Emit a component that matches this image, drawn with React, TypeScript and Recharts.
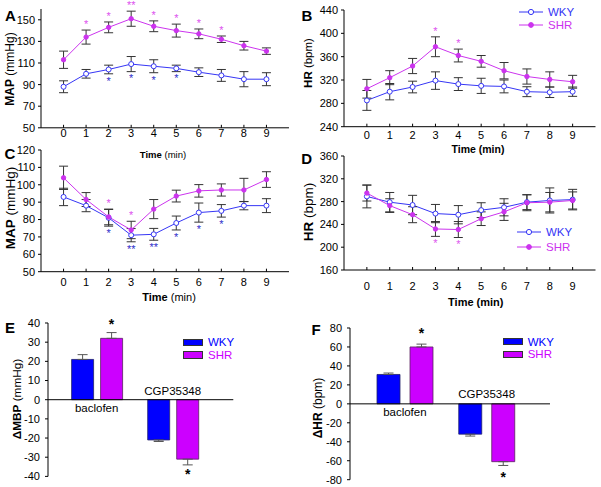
import React from 'react'
import {
  ComposedChart, Line, ErrorBar, XAxis, YAxis, LabelList,
  BarChart, Bar, ReferenceLine, ReferenceDot,
} from 'recharts'

const minutes = [0, 1, 2, 3, 4, 5, 6, 7, 8, 9]

// A: MAP after baclofen
const mapBacWky = [88, 100, 104, 109, 107, 105, 101.5, 98.5, 95, 95]
const mapBacWkyErr = [5.5, 4, 4, 7, 6, 3, 4, 5.5, 7, 6]
const mapBacWkyStars = ['', '', '*', '*', '*', '*', '', '', '', '']
const mapBacShr = [113, 134, 143, 151, 144, 140, 137, 132, 126, 121]
const mapBacShrErr = [8, 6.5, 5, 7, 5, 6, 4.5, 3, 4, 3]
const mapBacShrStars = ['', '*', '*', '**', '*', '*', '*', '*', '', '']

// B: HR after baclofen
const hrBacWky = [285, 300, 308, 319, 313, 310, 309, 300, 299, 300]
const hrBacWkyErr = [17, 14, 10, 15, 11, 13, 11, 8.5, 9, 8]
const hrBacWkyStars = ['', '', '', '', '', '', '', '', '', '']
const hrBacShr = [305, 324, 344, 377, 362, 352, 336, 326, 321, 317]
const hrBacShrErr = [16, 12, 13, 17, 11, 10, 14, 13, 13, 11]
const hrBacShrStars = ['', '', '', '*', '*', '', '', '', '', '']

// C: MAP after CGP35348
const mapCgpWky = [93, 88, 81, 71, 71.5, 78, 84, 85, 88, 88]
const mapCgpWkyErr = [5, 3.5, 4.8, 3.8, 3.4, 4, 5.5, 3.6, 2.4, 4]
const mapCgpWkyStars = ['', '', '*', '**', '**', '*', '*', '*', '', '']
const mapCgpShr = [104, 91.5, 81.5, 74, 86, 93.5, 96.5, 97, 97, 103]
const mapCgpShrErr = [6.7, 4, 4.5, 5, 5.5, 3.4, 3.6, 3.5, 6.7, 4.5]
const mapCgpShrStars = ['', '', '*', '*', '', '', '', '', '', '']

// D: HR after CGP35348
const hrCgpWky = [289, 279, 274, 259, 257, 265, 270, 279, 282, 283.5]
const hrCgpWkyErr = [20, 17, 17, 16, 16, 13, 15, 13, 22, 18]
const hrCgpWkyStars = ['', '', '', '', '', '', '', '', '', '']
const hrCgpShr = [295, 273, 257, 232, 231, 250, 262, 278, 279, 282]
const hrCgpShrErr = [14, 12, 14, 13, 14, 12, 15, 14, 17, 15]
const hrCgpShrStars = ['', '', '', '*', '*', '', '', '', '', '']

// E / F: peak changes
const treatments = ['baclofen', 'CGP35348']
const dMbpWky = [21, -21]
const dMbpWkyErr = [2.5, 0.8]
const dMbpShr = [32, -31]
const dMbpShrErr = [3, 3]
const dHrWky = [31, -32]
const dHrWkyErr = [1.5, 2]
const dHrShr = [60, -61]
const dHrShrErr = [3, 4]
const shrBarStars = ['*', '*']

const FONT = '"Liberation Sans", Arial, sans-serif'
const BLUE = '#3535f5'
const MAGENTA = '#cc33ee'
const BLUE_STAR = '#3333cc'
const MAGENTA_STAR = '#dd55ee'
const BAR_BLUE = '#0000ff'
const BAR_MAGENTA = '#cc00ff'

type Side = 'top' | 'bottom'

interface LinePanelProps {
  x0: number; x1: number; y0: number; y1: number
  domain: [number, number]
  ticks: number[]
  tickGap: number
  wky: number[]; wkyErr: number[]; wkyStars: string[]; wkySide: Side
  shr: number[]; shrErr: number[]; shrStars: string[]; shrSide: Side
}

function LinePanel(p: LinePanelProps) {
  const padL = 45, padT = 14, padR = 8, padB = 26
  const data = minutes.map((t, i) => ({
    t,
    wky: p.wky[i], wkyErr: p.wkyErr[i],
    wkyEdge: p.wkySide === 'top' ? p.wky[i] + p.wkyErr[i] : p.wky[i] - p.wkyErr[i],
    wkyStar: p.wkyStars[i],
    shr: p.shr[i], shrErr: p.shrErr[i],
    shrEdge: p.shrSide === 'top' ? p.shr[i] + p.shrErr[i] : p.shr[i] - p.shrErr[i],
    shrStar: p.shrStars[i],
  }))
  return (
    <div style={{ position: 'absolute', left: p.x0 - padL, top: p.y0 - padT }}>
      <ComposedChart
        width={p.x1 - p.x0 + padL + padR}
        height={p.y1 - p.y0 + padT + padB}
        data={data}
        margin={{ top: padT, right: padR, bottom: 0, left: 0 }}
      >
        <XAxis
          dataKey="t" type="number" domain={[-1, 10]} ticks={minutes} interval={0}
          height={padB} tickSize={-3} tickMargin={p.tickGap + 3}
          stroke="#000" tick={{ fill: '#000', fontSize: 11, fontFamily: FONT }}
        />
        <YAxis
          type="number" domain={p.domain} ticks={p.ticks} interval={0} width={padL}
          tickSize={3} tickMargin={3}
          stroke="#000" tick={{ fill: '#000', fontSize: 11, fontFamily: FONT }}
        />
        <Line
          dataKey="wky" stroke={BLUE} strokeWidth={1} isAnimationActive={false}
          dot={{ r: 2.5, fill: '#fff', stroke: BLUE, strokeWidth: 1 }} activeDot={false}
        >
          <ErrorBar dataKey="wkyErr" width={4.5} stroke="#333" strokeWidth={1} />
        </Line>
        <Line
          dataKey="shr" stroke={MAGENTA} strokeWidth={1} isAnimationActive={false}
          dot={{ r: 2.2, fill: MAGENTA, stroke: MAGENTA, strokeWidth: 1 }} activeDot={false}
        >
          <ErrorBar dataKey="shrErr" width={4.5} stroke="#333" strokeWidth={1} />
        </Line>
        <Line dataKey="wkyEdge" stroke="none" dot={false} activeDot={false} isAnimationActive={false}>
          <LabelList dataKey="wkyStar" position={p.wkySide} offset={p.wkySide === 'top' ? 2 : 3} fill={BLUE_STAR} fontSize={11} fontFamily={FONT} />
        </Line>
        <Line dataKey="shrEdge" stroke="none" dot={false} activeDot={false} isAnimationActive={false}>
          <LabelList dataKey="shrStar" position={p.shrSide} offset={p.shrSide === 'top' ? 2 : 3} fill={MAGENTA_STAR} fontSize={11} fontFamily={FONT} />
        </Line>
      </ComposedChart>
    </div>
  )
}

interface BarPanelProps {
  x0: number; x1: number; y0: number; y1: number
  domain: [number, number]
  ticks: number[]
  padLeft: number; padRight: number
  barSize: number; barGap: number
  wky: number[]; wkyErr: number[]
  shr: number[]; shrErr: number[]
  labelGapUp: number; labelGapDown: number
}

function starContent(props: any) {
  const vb = props.viewBox ?? props
  const { x, y, width, height } = vb
  const value = props.value
  if (!value) return null
  const top = Math.min(y, y + height)
  const bottom = Math.max(y, y + height)
  const up = props.up
  const cx = x + width / 2
  return (
    <text
      x={cx} y={up ? top - 9 : bottom + 20} textAnchor="middle"
      fontSize={14} fontWeight="bold" fontFamily={FONT} fill="#000"
    >{value}</text>
  )
}

function BarPanel(p: BarPanelProps) {
  const padL = 48, padT = 20, padR = 8, padB = 20
  const data = treatments.map((name, i) => ({
    name,
    wky: p.wky[i],
    wkyErr: p.wky[i] >= 0 ? [0, p.wkyErr[i]] : [p.wkyErr[i], 0],
    shr: p.shr[i],
    shrErr: p.shr[i] >= 0 ? [0, p.shrErr[i]] : [p.shrErr[i], 0],
    starUp: p.shr[i] >= 0 ? shrBarStars[i] : '',
    starDown: p.shr[i] < 0 ? shrBarStars[i] : '',
  }))
  return (
    <div style={{ position: 'absolute', left: p.x0 - padL, top: p.y0 - padT }}>
      <BarChart
        width={p.x1 - p.x0 + padL + padR}
        height={p.y1 - p.y0 + padT + padB}
        data={data}
        margin={{ top: padT, right: padR, bottom: padB, left: 0 }}
        barGap={p.barGap}
      >
        <XAxis dataKey="name" hide padding={{ left: p.padLeft, right: p.padRight }} />
        <YAxis
          type="number" domain={p.domain} ticks={p.ticks} interval={0} width={padL}
          tickSize={3} tickMargin={5}
          stroke="#000" tick={{ fill: '#000', fontSize: 11, fontFamily: FONT }}
        />
        <ReferenceLine y={0} stroke="#000" strokeWidth={1} />
        <Bar dataKey="wky" fill={BAR_BLUE} stroke="#22226a" strokeWidth={0.8} barSize={p.barSize} isAnimationActive={false}>
          <ErrorBar dataKey="wkyErr" width={5} stroke="#555" strokeWidth={1} />
        </Bar>
        <Bar dataKey="shr" fill={BAR_MAGENTA} stroke="#5a2260" strokeWidth={0.8} barSize={p.barSize} isAnimationActive={false}>
          <ErrorBar dataKey="shrErr" width={5} stroke="#555" strokeWidth={1} />
          <LabelList dataKey="starUp" content={(props: any) => starContent({ ...props, up: true })} />
          <LabelList dataKey="starDown" content={(props: any) => starContent({ ...props, up: false })} />
        </Bar>
        <ReferenceDot
          x={treatments[0]} y={0} r={0} fill="none" stroke="none"
          label={{ value: treatments[0], position: 'bottom', offset: p.labelGapDown, fill: '#000', fontSize: 11.5, fontFamily: FONT }}
        />
        <ReferenceDot
          x={treatments[1]} y={0} r={0} fill="none" stroke="none"
          label={{ value: treatments[1], position: 'top', offset: p.labelGapUp, fill: '#000', fontSize: 11.5, fontFamily: FONT }}
        />
      </BarChart>
    </div>
  )
}

function Txt({ cx, cy, size, bold, rest, vertical, color, weight }: {
  cx: number; cy: number; size: number; bold?: string; rest?: string
  vertical?: boolean; color?: string; weight?: string
}) {
  return (
    <div
      style={{
        position: 'absolute', left: cx, top: cy, whiteSpace: 'nowrap', lineHeight: 1,
        fontSize: size, color: color ?? '#000', fontWeight: weight ?? 'normal',
        transform: vertical ? 'translate(-50%, -50%) rotate(-90deg)' : 'translate(-50%, -50%)',
      }}
    >
      {bold && <b>{bold}</b>}{rest}
    </div>
  )
}

function LineKey({ x, y, filled, color, label }: { x: number; y: number; filled: boolean; color: string; label: string }) {
  return (
    <div style={{ position: 'absolute', left: x, top: y - 7, height: 14, display: 'flex', alignItems: 'center', whiteSpace: 'nowrap' }}>
      <svg width={25} height={14} style={{ display: 'block' }}>
        <line x1={0} y1={7} x2={24} y2={7} stroke={color} strokeWidth={1} />
        <circle cx={12} cy={7} r={filled ? 2.4 : 2.6} fill={filled ? color : '#fff'} stroke={color} strokeWidth={1} />
      </svg>
      <span style={{ color, fontSize: 11.5, marginLeft: 4 }}>{label}</span>
    </div>
  )
}

function BarKey({ x, y, color, label }: { x: number; y: number; color: string; label: string }) {
  return (
    <div style={{ position: 'absolute', left: x, top: y - 7, height: 14, display: 'flex', alignItems: 'center', whiteSpace: 'nowrap' }}>
      <div style={{ width: 18, height: 5.5, background: color, border: '0.8px solid #333' }} />
      <span style={{ color, fontSize: 11.5, marginLeft: 5 }}>{label}</span>
    </div>
  )
}

export default function App() {
  return (
    <div style={{ position: 'absolute', left: 0, top: 0, width: 601, height: 487, background: '#fff', fontFamily: FONT, overflow: 'hidden' }}>
      <LinePanel
        x0={41} x1={289} y0={9.2} y1={128} domain={[50, 160]} ticks={[50, 70, 90, 110, 130, 150]} tickGap={1.5}
        wky={mapBacWky} wkyErr={mapBacWkyErr} wkyStars={mapBacWkyStars} wkySide="bottom"
        shr={mapBacShr} shrErr={mapBacShrErr} shrStars={mapBacShrStars} shrSide="top"
      />
      <LinePanel
        x0={344} x1={595.5} y0={10} y1={126.7} domain={[240, 440]} ticks={[240, 280, 320, 360, 400, 440]} tickGap={4.5}
        wky={hrBacWky} wkyErr={hrBacWkyErr} wkyStars={hrBacWkyStars} wkySide="bottom"
        shr={hrBacShr} shrErr={hrBacShrErr} shrStars={hrBacShrStars} shrSide="top"
      />
      <LinePanel
        x0={41} x1={289} y0={150} y1={271.7} domain={[50, 120]} ticks={[50, 60, 70, 80, 90, 100, 110, 120]} tickGap={6.6}
        wky={mapCgpWky} wkyErr={mapCgpWkyErr} wkyStars={mapCgpWkyStars} wkySide="bottom"
        shr={mapCgpShr} shrErr={mapCgpShrErr} shrStars={mapCgpShrStars} shrSide="top"
      />
      <LinePanel
        x0={344} x1={595.5} y0={156} y1={270} domain={[160, 360]} ticks={[160, 200, 240, 280, 320, 360]} tickGap={11.7}
        wky={hrCgpWky} wkyErr={hrCgpWkyErr} wkyStars={hrCgpWkyStars} wkySide="bottom"
        shr={hrCgpShr} shrErr={hrCgpShrErr} shrStars={hrCgpShrStars} shrSide="bottom"
      />
      <BarPanel
        x0={47.7} x1={233} y0={323.3} y1={476.7} domain={[-40, 40]}
        ticks={[-40, -30, -20, -10, 0, 10, 20, 30, 40]}
        padLeft={10.6} padRight={22.5} barSize={22} barGap={7}
        wky={dMbpWky} wkyErr={dMbpWkyErr} shr={dMbpShr} shrErr={dMbpShrErr}
        labelGapUp={4.5} labelGapDown={4}
      />
      <BarPanel
        x0={350} x1={550} y0={328.3} y1={480} domain={[-80, 80]}
        ticks={[-80, -60, -40, -20, 0, 20, 40, 60, 80]}
        padLeft={14} padRight={22.5} barSize={23} barGap={10}
        wky={dHrWky} wkyErr={dHrWkyErr} shr={dHrShr} shrErr={dHrShrErr}
        labelGapUp={6} labelGapDown={4}
      />

      <Txt cx={10.5} cy={15} size={15} weight="bold" rest="A" />
      <Txt cx={307} cy={15} size={15} weight="bold" rest="B" />
      <Txt cx={10} cy={153} size={15} weight="bold" rest="C" />
      <Txt cx={306.7} cy={158} size={15} weight="bold" rest="D" />
      <Txt cx={10} cy={326.5} size={15} weight="bold" rest="E" />
      <Txt cx={316} cy={328.7} size={15} weight="bold" rest="F" />

      <Txt cx={10} cy={69} size={12} bold="MAP" rest=" (mmHg)" vertical />
      <Txt cx={10.5} cy={207.5} size={13.5} bold="MAP" rest=" (mmHg)" vertical />
      <Txt cx={308.7} cy={63} size={11.5} bold="HR" rest=" (bpm)" vertical />
      <Txt cx={309} cy={211.7} size={13.5} bold="HR" rest=" (bpm)" vertical />
      <Txt cx={17.5} cy={399} size={11.8} bold="ΔMBP" rest=" (mmHg)" vertical />
      <Txt cx={318.3} cy={408.3} size={12} bold="ΔHR" rest=" (bpm)" vertical />

      <Txt cx={163} cy={155} size={9.5} bold="Time" rest=" (min)" />
      <Txt cx={478} cy={149} size={10.5} weight="bold" rest="Time (min)" />
      <Txt cx={169} cy={296.7} size={11} bold="Time" rest=" (min)" />
      <Txt cx={475.8} cy={301.7} size={11} weight="bold" rest="Time (min)" />

      <LineKey x={519} y={12.3} filled={false} color={BLUE} label="WKY" />
      <LineKey x={519} y={25.3} filled color={MAGENTA} label="SHR" />
      <LineKey x={517} y={231.7} filled={false} color={BLUE} label="WKY" />
      <LineKey x={517} y={246.7} filled color={MAGENTA} label="SHR" />

      <BarKey x={183} y={342.3} color={BAR_BLUE} label="WKY" />
      <BarKey x={183} y={355} color={BAR_MAGENTA} label="SHR" />
      <BarKey x={502.7} y={341.7} color={BAR_BLUE} label="WKY" />
      <BarKey x={502.7} y={354.3} color={BAR_MAGENTA} label="SHR" />
    </div>
  )
}
